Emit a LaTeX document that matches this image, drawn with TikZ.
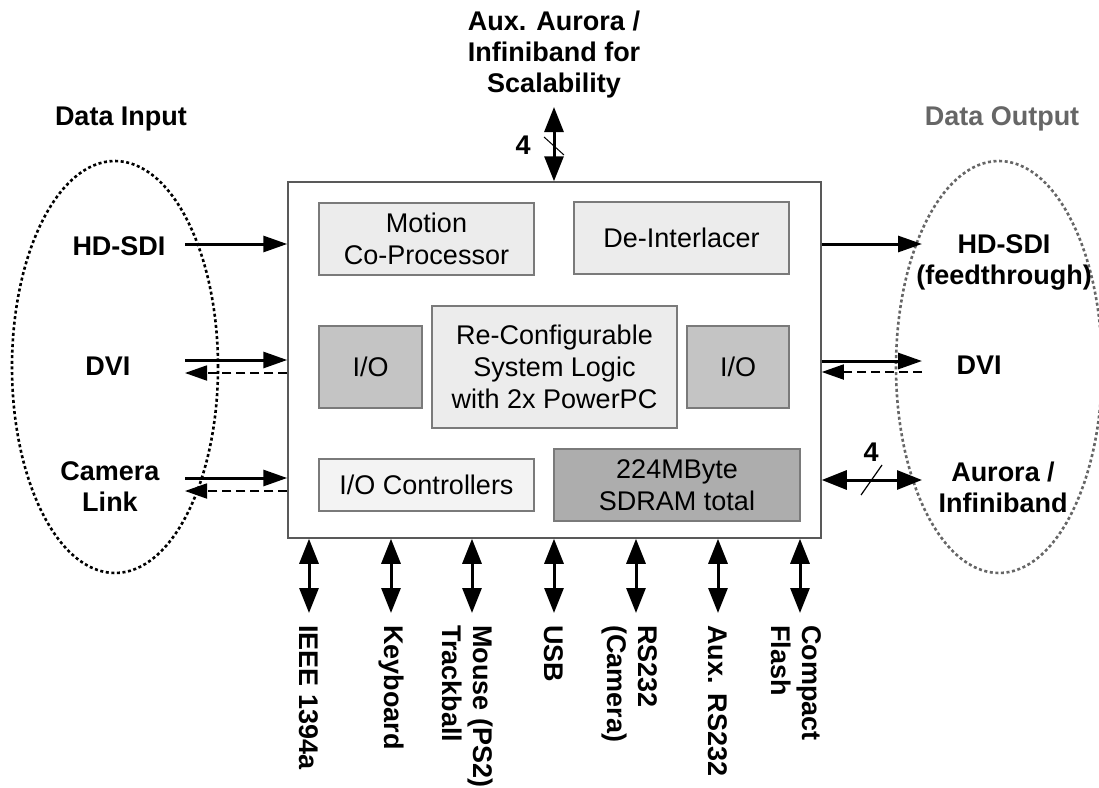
\documentclass[tikz,border=0pt]{standalone}
\usepackage{fontspec}
\setmainfont{Liberation Sans}
\usetikzlibrary{arrows.meta,shapes.geometric,calc}
\definecolor{boxline}{HTML}{7A7A7A}
\definecolor{lightfill}{HTML}{ECECEC}
\definecolor{palefill}{HTML}{F3F3F3}
\definecolor{iofill}{HTML}{C4C4C4}
\definecolor{ramfill}{HTML}{ADADAD}
\definecolor{outgray}{HTML}{666666}
\begin{document}
\begin{tikzpicture}[x=1pt,y=-1pt,
  lbl/.style={font=\fontsize{27pt}{31pt}\selectfont\bfseries, align=center, inner sep=0pt},
  blk/.style={draw=boxline, line width=1.5pt, font=\fontsize{27pt}{32pt}\selectfont, align=center, inner sep=0pt},
  arr/.style={line width=3pt, -{Triangle[length=24pt,width=16pt]}},
  barr/.style={line width=3pt, {Triangle[length=25pt,width=19pt]}-{Triangle[length=25pt,width=19pt]}},
  darr/.style={line width=1.8pt, dash pattern=on 9pt off 5pt, -{Triangle[length=22pt,width=15pt]}},
  rlbl/.style={font=\fontsize{27pt}{31pt}\selectfont\bfseries, align=left, inner sep=0pt, rotate=-90, anchor=west},
  ell/.style={ellipse, line width=2.6pt, dash pattern=on 3pt off 2.6pt, minimum width=206pt, minimum height=412pt, inner sep=0pt}
]
\useasboundingbox (0,0) rectangle (1099,787);

% main system box
\node[draw=black!65, line width=1.5pt, minimum width=533pt, minimum height=356pt, inner sep=0pt] (sys) at (554.5,360) {};

% inner blocks
\node[blk, fill=lightfill, minimum width=215pt, minimum height=72pt] (mcp) at (426.5,239) {Motion\\Co-Processor};
\node[blk, fill=lightfill, minimum width=215pt, minimum height=72pt] (dei) at (681.5,238) {De-Interlacer};
\node[blk, fill=iofill, minimum width=103pt, minimum height=82pt] (iol) at (370.5,367) {I/O};
\node[blk, fill=lightfill, minimum width=245pt, minimum height=122pt] (rcs) at (554.5,367) {Re-Configurable\\System Logic\\with 2x PowerPC};
\node[blk, fill=iofill, minimum width=102pt, minimum height=82pt] (ior) at (738,367) {I/O};
\node[blk, fill=palefill, minimum width=215pt, minimum height=52pt] (ioc) at (426.5,485) {I/O Controllers};
\node[blk, fill=ramfill, minimum width=246pt, minimum height=72pt] (ram) at (677,485) {224MByte\\SDRAM total};

% ellipses
\node[ell, draw=black] (inEll) at (115,367) {};
\node[ell, draw=outgray] (outEll) at (999,367) {};

% headings
\node[lbl] (datain) at (121,119) {Data Input};
\node[lbl, text=outgray] (dataout) at (1002,119) {Data Output};

% input labels
\node[lbl] (hdin) at (119,246) {HD-SDI};
\node[lbl] (dviin) at (108,366) {DVI};
\node[lbl] (camin) at (110,487) {Camera\\Link};

% output labels
\node[lbl] (hdout) at (1004,262) {HD-SDI\\(feedthrough)};
\node[lbl] (dviout) at (979,365) {DVI};
\node[lbl] (aurout) at (1003,487) {Aurora /\\Infiniband};

% top label
\node[lbl] (auxtop) at (554,55) {Aux. Aurora /\\Infiniband for\\Scalability};

% input connectors
\coordinate (hdinE) at (185,244);
\coordinate (dviinE) at (185,360);
\coordinate (dviinR) at (185,373);
\coordinate (caminE) at (185,478);
\coordinate (caminR) at (185,491);
\draw[arr] (hdinE) -- (hdinE -| sys.west);
\draw[arr] (dviinE) -- (dviinE -| sys.west);
\draw[darr] (dviinR -| sys.west) -- (dviinR);
\draw[arr] (caminE) -- (caminE -| sys.west);
\draw[darr] (caminR -| sys.west) -- (caminR);

% output connectors
\coordinate (hdoutW) at (922,244);
\coordinate (dvioutW) at (922,361);
\coordinate (dvioutR) at (922,372);
\coordinate (auroutW) at (922,480);
\draw[arr] (hdoutW -| sys.east) -- (hdoutW);
\draw[arr] (dvioutW -| sys.east) -- (dvioutW);
\draw[darr] (dvioutR) -- (dvioutR -| sys.east);
\draw[barr] (auroutW -| sys.east) -- (auroutW);
\draw[line width=1.2pt] (861,495) -- (882,465);
\node[lbl] (fourR) at (871,452) {4};

% top connector
\coordinate (topN) at (554,107);
\draw[barr] (topN) -- (topN |- sys.north);
\draw[line width=1pt] (544,137) -- (564,155);
\node[lbl] (fourT) at (523,145) {4};

% bottom connectors
\foreach \n/\x in {b1/309,b2/391,b3/472,b4/554,b5/636,b6/718,b7/800}{
  \coordinate (\n) at (\x,613);
  \draw[barr] (\n |- sys.south) -- (\n);
}
\node[rlbl] (l1) at (309,625) {IEEE 1394a};
\node[rlbl] (l2) at (391,625) {Keyboard};
\node[rlbl] (l3) at (468,625) {Mouse (PS2)\\Trackball};
\node[rlbl] (l4) at (554,625) {USB};
\node[rlbl] (l5) at (630,625) {RS232\\(Camera)};
\node[rlbl] (l6) at (718,625) {Aux. RS232};
\node[rlbl] (l7) at (796,625) {Compact\\Flash};
\end{tikzpicture}
\end{document}
